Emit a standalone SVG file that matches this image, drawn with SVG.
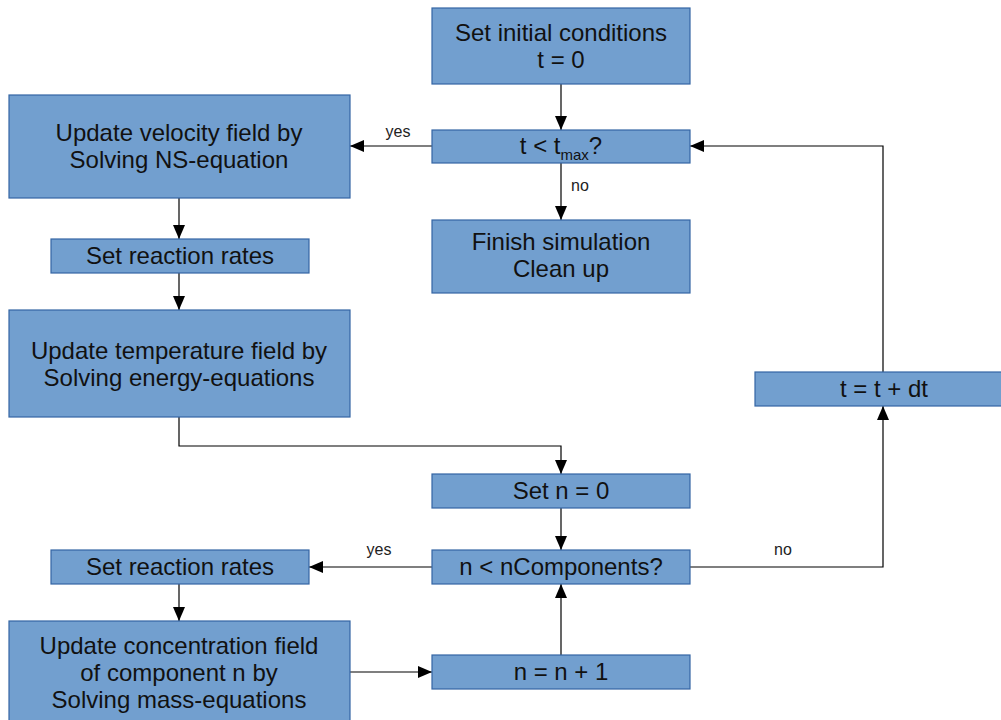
<svg xmlns="http://www.w3.org/2000/svg" width="1001" height="720" viewBox="0 0 1001 720">
<style>
.box{fill:#729fcf;stroke:#3465a4;stroke-width:1.2}
.t{font-family:"Liberation Sans",Arial,sans-serif;font-size:24px;fill:#111;text-anchor:middle}
.lbl{font-family:"Liberation Sans",Arial,sans-serif;font-size:16px;fill:#222;text-anchor:middle}
.c{fill:none;stroke:#000;stroke-width:1.2;marker-end:url(#ah)}
</style>
<defs>
<marker id="ah" markerUnits="userSpaceOnUse" markerWidth="14" markerHeight="14" viewBox="0 0 14 12" refX="14" refY="6" orient="auto">
<path d="M0,0 L14,6 L0,12 Z" fill="#000"/>
</marker>
</defs>
<rect width="1001" height="720" fill="#fff"/>
<g id="connectors">
<path class="c" d="M561,84 V130"/>
<path class="c" d="M432,146 H350"/>
<path class="c" d="M561,163 V220"/>
<path class="c" d="M883,372 V146 H690"/>
<path class="c" d="M179,198 V239"/>
<path class="c" d="M179,273 V310"/>
<path class="c" d="M179,417 V446 H561 V474"/>
<path class="c" d="M561,508 V550"/>
<path class="c" d="M432,567 H309"/>
<path class="c" d="M690,567 H883 V406"/>
<path class="c" d="M179,584 V621"/>
<path class="c" d="M350,672 H432"/>
<path class="c" d="M561,655 V584"/>
<text class="lbl" x="398" y="137">yes</text>
<text class="lbl" x="580" y="191">no</text>
<text class="lbl" x="379" y="555">yes</text>
<text class="lbl" x="783" y="555">no</text>
</g>
<g id="init"><rect class="box" x="432" y="8" width="258" height="76"/><text class="t" x="561" y="41">Set initial conditions</text><text class="t" x="561" y="68">t = 0</text></g>
<g id="tcheck"><rect class="box" x="432" y="130" width="258" height="33"/><text class="t" x="561" y="154"><tspan>t &lt; t</tspan><tspan font-size="15" dy="6">max</tspan><tspan dy="-6">?</tspan></text></g>
<g id="finish"><rect class="box" x="432" y="220" width="258" height="73"/><text class="t" x="561" y="250">Finish simulation</text><text class="t" x="561" y="277">Clean up</text></g>
<g id="velocity"><rect class="box" x="9" y="95" width="341" height="103"/><text class="t" x="179" y="141">Update velocity field by</text><text class="t" x="179" y="168">Solving NS-equation</text></g>
<g id="rates1"><rect class="box" x="51" y="239" width="258" height="34"/><text class="t" x="180" y="264">Set reaction rates</text></g>
<g id="temperature"><rect class="box" x="9" y="310" width="341" height="107"/><text class="t" x="179" y="359">Update temperature field by</text><text class="t" x="179" y="386">Solving energy-equations</text></g>
<g id="tinc"><rect class="box" x="755" y="372" width="258" height="34"/><text class="t" x="884" y="397">t = t + dt</text></g>
<g id="setn"><rect class="box" x="432" y="474" width="258" height="34"/><text class="t" x="561" y="499">Set n = 0</text></g>
<g id="ncheck"><rect class="box" x="432" y="550" width="258" height="34"/><text class="t" x="561" y="575">n &lt; nComponents?</text></g>
<g id="rates2"><rect class="box" x="51" y="550" width="258" height="34"/><text class="t" x="180" y="575">Set reaction rates</text></g>
<g id="concentration"><rect class="box" x="9" y="621" width="341" height="105"/><text class="t" x="179" y="654">Update concentration field</text><text class="t" x="179" y="681">of component n by</text><text class="t" x="179" y="708">Solving mass-equations</text></g>
<g id="ninc"><rect class="box" x="432" y="655" width="258" height="34"/><text class="t" x="561" y="680">n = n + 1</text></g>
</svg>
